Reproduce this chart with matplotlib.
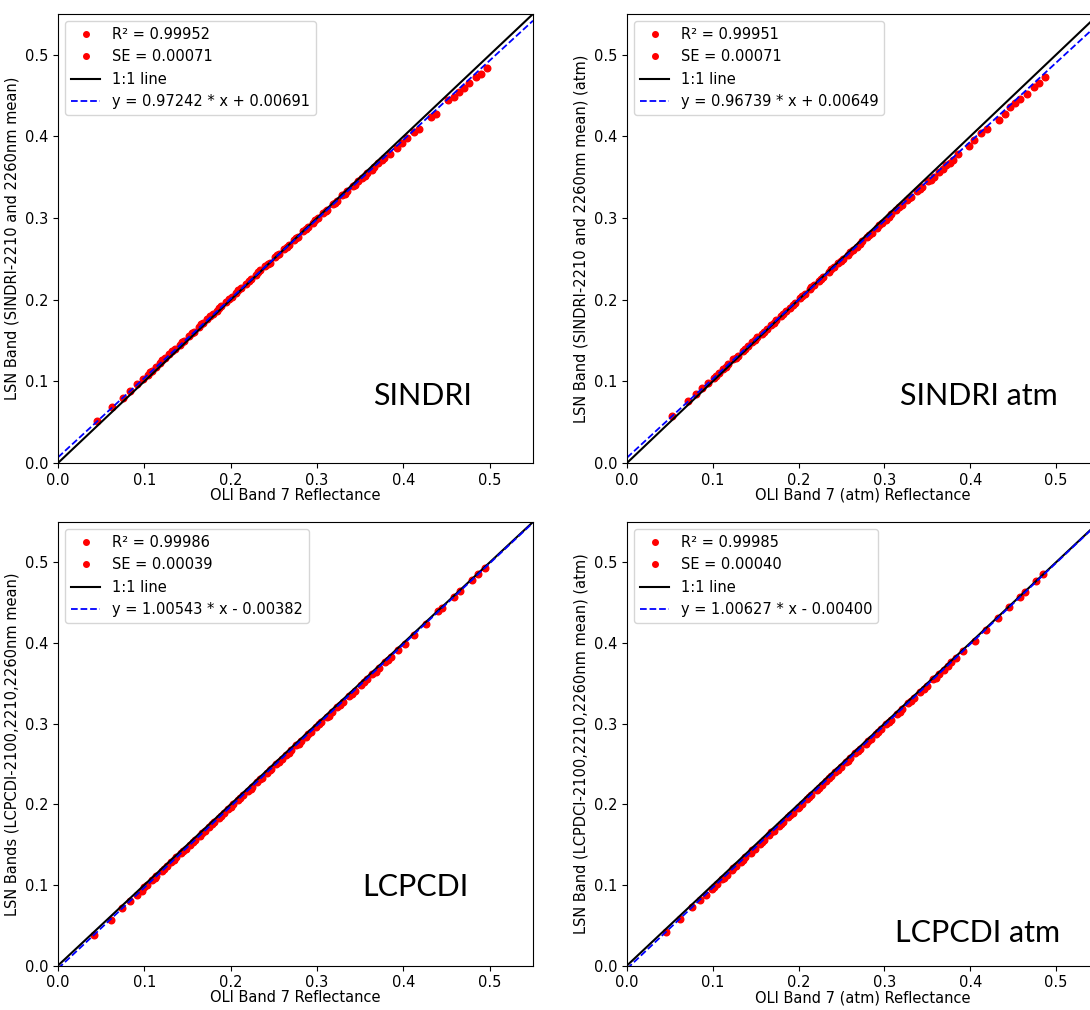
# Band comparison: LSN index bands vs OLI Band 7 reflectance, four panels.
import numpy as np
import matplotlib.pyplot as plt

# SINDRI
sindri_x = [0.045, 0.062, 0.075, 0.083, 0.092, 0.098, 0.104, 0.109, 0.113, 0.118,
            0.124, 0.129, 0.135, 0.141, 0.146, 0.152, 0.158, 0.163, 0.168, 0.173,
            0.179, 0.184, 0.189, 0.195, 0.201, 0.206, 0.212, 0.218, 0.223, 0.229,
            0.234, 0.240, 0.245, 0.251, 0.256, 0.262, 0.267, 0.273, 0.278, 0.284,
            0.290, 0.295, 0.301, 0.307, 0.312, 0.318, 0.323, 0.329, 0.335, 0.341,
            0.347, 0.352, 0.358, 0.363, 0.371, 0.378, 0.384, 0.392, 0.398, 0.404,
            0.412, 0.418, 0.432, 0.438, 0.452, 0.458, 0.464, 0.470, 0.476, 0.484,
            0.490, 0.497,
            0.107, 0.121, 0.132, 0.144, 0.155, 0.166, 0.176, 0.187, 0.198, 0.209,
            0.221, 0.232, 0.243, 0.254, 0.265, 0.276, 0.287, 0.298, 0.310, 0.321,
            0.332, 0.344, 0.355, 0.366, 0.375]
sindri_y = [0.051, 0.068, 0.080, 0.088, 0.097, 0.103, 0.108, 0.113, 0.118, 0.122,
            0.128, 0.133, 0.139, 0.145, 0.149, 0.155, 0.161, 0.166, 0.171, 0.176,
            0.182, 0.186, 0.192, 0.197, 0.203, 0.208, 0.214, 0.219, 0.225, 0.230,
            0.236, 0.241, 0.245, 0.252, 0.256, 0.262, 0.267, 0.273, 0.277, 0.284,
            0.289, 0.294, 0.300, 0.306, 0.310, 0.317, 0.321, 0.328, 0.333, 0.339,
            0.345, 0.349, 0.355, 0.359, 0.367, 0.373, 0.379, 0.386, 0.392, 0.398,
            0.405, 0.409, 0.424, 0.428, 0.444, 0.448, 0.455, 0.459, 0.466, 0.473,
            0.477, 0.484,
            0.112, 0.126, 0.137, 0.148, 0.159, 0.170, 0.180, 0.190, 0.201, 0.212,
            0.223, 0.234, 0.244, 0.255, 0.265, 0.276, 0.286, 0.297, 0.309, 0.319,
            0.330, 0.341, 0.352, 0.362, 0.371]

# SINDRI atm
sindri_atm_x = [0.052, 0.071, 0.080, 0.088, 0.094, 0.101, 0.107, 0.112, 0.118, 0.124,
                0.129, 0.135, 0.141, 0.146, 0.152, 0.157, 0.163, 0.168, 0.174, 0.179,
                0.185, 0.190, 0.196, 0.202, 0.207, 0.213, 0.218, 0.224, 0.229, 0.235,
                0.241, 0.246, 0.252, 0.257, 0.263, 0.268, 0.274, 0.280, 0.285, 0.291,
                0.297, 0.302, 0.308, 0.314, 0.320, 0.326, 0.331, 0.338, 0.344, 0.351,
                0.358, 0.364, 0.372, 0.380, 0.386, 0.398, 0.404, 0.412, 0.420, 0.434,
                0.440, 0.446, 0.452, 0.458, 0.466, 0.474, 0.480, 0.487,
                0.104, 0.115, 0.127, 0.138, 0.149, 0.160, 0.171, 0.182, 0.193, 0.204,
                0.215, 0.226, 0.238, 0.249, 0.260, 0.271, 0.282, 0.294, 0.305, 0.317,
                0.329, 0.341, 0.354, 0.368, 0.376]
sindri_atm_y = [0.057, 0.076, 0.084, 0.092, 0.098, 0.104, 0.110, 0.115, 0.121, 0.127,
                0.131, 0.137, 0.143, 0.148, 0.154, 0.158, 0.164, 0.169, 0.175, 0.180,
                0.186, 0.190, 0.196, 0.202, 0.207, 0.213, 0.218, 0.223, 0.228, 0.234,
                0.240, 0.245, 0.250, 0.255, 0.261, 0.265, 0.272, 0.277, 0.282, 0.288,
                0.294, 0.298, 0.305, 0.310, 0.316, 0.322, 0.326, 0.333, 0.338, 0.345,
                0.350, 0.357, 0.365, 0.371, 0.378, 0.388, 0.395, 0.404, 0.409, 0.420,
                0.428, 0.436, 0.441, 0.446, 0.452, 0.461, 0.466, 0.473,
                0.107, 0.118, 0.129, 0.140, 0.151, 0.161, 0.172, 0.183, 0.193, 0.204,
                0.215, 0.225, 0.237, 0.247, 0.258, 0.268, 0.279, 0.291, 0.301, 0.313,
                0.324, 0.335, 0.347, 0.360, 0.368]

# LCPCDI
lcpcdi_x = [0.042, 0.061, 0.074, 0.083, 0.091, 0.097, 0.103, 0.109, 0.114, 0.120,
            0.126, 0.131, 0.137, 0.142, 0.148, 0.153, 0.159, 0.164, 0.170, 0.175,
            0.181, 0.186, 0.192, 0.197, 0.203, 0.208, 0.214, 0.220, 0.225, 0.231,
            0.236, 0.242, 0.247, 0.253, 0.259, 0.264, 0.270, 0.276, 0.281, 0.287,
            0.293, 0.299, 0.305, 0.311, 0.317, 0.323, 0.330, 0.337, 0.344, 0.351,
            0.358, 0.364, 0.372, 0.379, 0.386, 0.394, 0.402, 0.412, 0.426, 0.440,
            0.445, 0.458, 0.465, 0.479, 0.486, 0.494,
            0.100, 0.112, 0.123, 0.134, 0.145, 0.156, 0.167, 0.178, 0.189, 0.200,
            0.211, 0.223, 0.234, 0.245, 0.256, 0.267, 0.279, 0.290, 0.302, 0.314,
            0.327, 0.340, 0.354, 0.368, 0.382]
lcpcdi_y = [0.038, 0.057, 0.071, 0.080, 0.088, 0.093, 0.100, 0.106, 0.111, 0.117,
            0.123, 0.128, 0.134, 0.139, 0.145, 0.150, 0.156, 0.161, 0.167, 0.172,
            0.178, 0.183, 0.189, 0.194, 0.200, 0.205, 0.211, 0.217, 0.222, 0.228,
            0.233, 0.239, 0.244, 0.250, 0.256, 0.261, 0.267, 0.273, 0.278, 0.284,
            0.290, 0.296, 0.302, 0.308, 0.314, 0.320, 0.327, 0.334, 0.341, 0.348,
            0.355, 0.361, 0.369, 0.376, 0.383, 0.391, 0.399, 0.410, 0.424, 0.439,
            0.443, 0.457, 0.464, 0.478, 0.485, 0.493,
            0.097, 0.108, 0.120, 0.131, 0.142, 0.153, 0.164, 0.175, 0.186, 0.197,
            0.208, 0.219, 0.231, 0.242, 0.253, 0.264, 0.275, 0.287, 0.299, 0.310,
            0.323, 0.337, 0.351, 0.364, 0.379]

# LCPCDI atm
lcpcdi_atm_x = [0.045, 0.062, 0.076, 0.085, 0.092, 0.099, 0.105, 0.111, 0.116, 0.122,
                0.127, 0.133, 0.138, 0.144, 0.149, 0.155, 0.160, 0.166, 0.171, 0.177,
                0.182, 0.188, 0.193, 0.199, 0.204, 0.210, 0.215, 0.221, 0.227, 0.232,
                0.238, 0.243, 0.249, 0.255, 0.260, 0.266, 0.272, 0.278, 0.284, 0.290,
                0.296, 0.302, 0.308, 0.315, 0.321, 0.328, 0.335, 0.342, 0.350, 0.357,
                0.364, 0.374, 0.383, 0.392, 0.405, 0.418, 0.432, 0.445, 0.458, 0.464,
                0.477, 0.485,
                0.102, 0.113, 0.124, 0.135, 0.146, 0.157, 0.168, 0.179, 0.190, 0.201,
                0.212, 0.224, 0.235, 0.246, 0.257, 0.269, 0.281, 0.293, 0.305, 0.318,
                0.331, 0.346, 0.360, 0.369, 0.378]
lcpcdi_atm_y = [0.041, 0.058, 0.072, 0.081, 0.088, 0.095, 0.101, 0.107, 0.112, 0.118,
                0.123, 0.129, 0.134, 0.140, 0.145, 0.151, 0.156, 0.162, 0.167, 0.173,
                0.178, 0.184, 0.189, 0.195, 0.200, 0.206, 0.211, 0.218, 0.224, 0.229,
                0.235, 0.240, 0.246, 0.252, 0.257, 0.263, 0.269, 0.275, 0.281, 0.287,
                0.293, 0.299, 0.305, 0.312, 0.318, 0.325, 0.332, 0.339, 0.347, 0.355,
                0.361, 0.372, 0.381, 0.390, 0.403, 0.416, 0.431, 0.444, 0.457, 0.463,
                0.477, 0.485,
                0.098, 0.109, 0.121, 0.131, 0.143, 0.153, 0.165, 0.175, 0.187, 0.197,
                0.209, 0.220, 0.232, 0.243, 0.254, 0.266, 0.278, 0.290, 0.302, 0.315,
                0.328, 0.343, 0.357, 0.366, 0.376]

# fit statistics shown in the legends
r2 = ["0.99952", "0.99951", "0.99986", "0.99985"]
se = ["0.00071", "0.00071", "0.00039", "0.00040"]
slopes = [0.97242, 0.96739, 1.00543, 1.00627]
intercepts = [0.00691, 0.00649, -0.00382, -0.00400]

panel_names = ["SINDRI", "SINDRI atm", "LCPCDI", "LCPCDI atm"]
ylabels = ["LSN Band (SINDRI-2210 and 2260nm mean)",
           "LSN Band (SINDRI-2210 and 2260nm mean) (atm)",
           "LSN Bands (LCPCDI-2100,2210,2260nm mean)",
           "LSN Band (LCPDCI-2100,2210,2260nm mean) (atm)"]
xlabels = ["OLI Band 7 Reflectance", "OLI Band 7 (atm) Reflectance",
           "OLI Band 7 Reflectance", "OLI Band 7 (atm) Reflectance"]

xs = [sindri_x, sindri_atm_x, lcpcdi_x, lcpcdi_atm_x]
ys = [sindri_y, sindri_atm_y, lcpcdi_y, lcpcdi_atm_y]

# axes boxes [left, bottom, width, height] in figure fraction
boxes = [[0.0532, 0.5416, 0.4358, 0.4446],
         [0.5752, 0.5416, 0.4330, 0.4446],
         [0.0532, 0.0440, 0.4358, 0.4392],
         [0.5752, 0.0440, 0.4330, 0.4392]]
name_pos = [(0.365, 0.071), (0.318, 0.071), (0.352, 0.086), (0.312, 0.029)]

plt.rcParams["font.size"] = 10.5

fig = plt.figure(figsize=(10.9, 10.1), dpi=100)
line = np.array([0.0, 0.55])

for i in range(4):
    ax = fig.add_axes(boxes[i])
    ax.plot(xs[i], ys[i], "r.", markersize=9.5, label="R\u00b2 = " + r2[i])
    ax.plot([], [], "r.", markersize=8, label="SE = " + se[i])
    ax.plot(line, line, "k-", linewidth=1.5, label="1:1 line")
    sign = "+" if intercepts[i] >= 0 else "-"
    fit_label = "y = %.5f * x %s %.5f" % (slopes[i], sign, abs(intercepts[i]))
    ax.plot(line, slopes[i] * line + intercepts[i], "b--", linewidth=1.3, label=fit_label)
    ax.set_xlim(0, 0.55)
    ax.set_ylim(0, 0.55)
    ax.set_xticks([0.0, 0.1, 0.2, 0.3, 0.4, 0.5])
    ax.set_yticks([0.0, 0.1, 0.2, 0.3, 0.4, 0.5])
    ax.set_xlabel(xlabels[i], labelpad=0)
    ax.set_ylabel(ylabels[i], labelpad=4)
    ax.text(name_pos[i][0], name_pos[i][1], panel_names[i], fontsize=22, family="Lato")
    leg = ax.legend(loc="upper left", fontsize=10.5)
    leg.legend_handles[0].set_markersize(8)

plt.savefig("out.png", dpi=100)
